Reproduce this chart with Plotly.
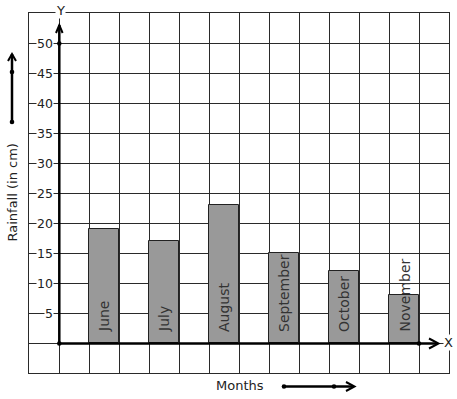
import plotly.graph_objects as go

months = ["June", "July", "August", "September", "October", "November"]
rainfall = [19, 17, 23, 15, 12, 8]
y_ticks = [5, 10, 15, 20, 25, 30, 35, 40, 45, 50]

W, H = 457, 399
L, R, T, B = 29, 449, 13, 373  # plot area in px

def px(x):
    return (x - L) / (R - L)

def py(y):
    return (B - y) / (B - T)

xpos = [1.5 + 2 * i for i in range(len(months))]

fig = go.Figure()
fig.add_trace(go.Bar(
    x=xpos, y=rainfall, width=1,
    marker=dict(color="#999999", line=dict(color="#222222", width=1)),
    hoverinfo="skip",
))

font = "DejaVu Sans"
ann = []
for xv, m in zip(xpos, months):
    ann.append(dict(x=xv, y=0, xref="x", yref="y", text=m, showarrow=False,
                    textangle=-90, yanchor="bottom", xanchor="center", yshift=9,
                    font=dict(family=font, size=14, color="#333333")))
for t in y_ticks:
    ann.append(dict(x=0, y=t, xref="x", yref="y", text=str(t), showarrow=False,
                    xanchor="right", yanchor="middle", xshift=-5, bgcolor="white",
                    borderpad=0, font=dict(family=font, size=12.5, color="#222222")))

def label(x, y, text, size=13, angle=0, bg=None):
    d = dict(x=px(x), y=py(y), xref="paper", yref="paper", text=text, showarrow=False,
             xanchor="center", yanchor="middle", textangle=angle, borderpad=0,
             font=dict(family=font, size=size, color="#222222"))
    if bg:
        d["bgcolor"] = bg
    return d

ann.append(label(60.5, 10, "Y", bg="white"))
ann.append(label(448.5, 342, "X", bg="white"))
ann.append(label(240, 385, "Months"))
ann.append(label(12, 192.5, "Rainfall (in cm)", angle=-90))

def pline(pts, w=2.5):
    path = "M " + " L ".join(f"{px(a)},{py(b)}" for a, b in pts)
    return dict(type="path", path=path, xref="paper", yref="paper",
                line=dict(color="black", width=w), layer="above")

def pdot(a, b, r=2.3):
    return dict(type="circle", xref="paper", yref="paper",
                x0=px(a - r), x1=px(a + r), y0=py(b + r), y1=py(b - r),
                fillcolor="black", line=dict(color="black", width=0), layer="above")

shapes = [
    # y axis
    pline([(59.3, 343.5), (59.3, 25)]),
    pline([(56, 33), (59.3, 25), (62.6, 33)], 2),
    # x axis
    pline([(59.3, 343.5), (438, 343.5)]),
    pline([(429, 338.5), (438.5, 343.5), (429, 348.5)], 2),
    pdot(59.3, 343.5), pdot(59.3, 43.5), pdot(419, 343.5),
    # left arrow
    pline([(12, 122), (12, 54)]),
    pline([(8, 61), (12, 54), (16, 61)], 2),
    pdot(12, 122), pdot(12, 72),
    # bottom arrow
    pline([(284, 386.5), (354, 386.5)]),
    pline([(346, 382), (354.5, 386.5), (346, 391)], 2),
    pdot(284, 386.5), pdot(334, 386.5),
]

axis_common = dict(showgrid=True, gridcolor="#2a2a2a", gridwidth=1, zeroline=False,
                   showticklabels=False, ticks="", showline=True, mirror=True,
                   linecolor="#2a2a2a", linewidth=1, fixedrange=True)

fig.update_layout(
    width=W, height=H,
    margin=dict(l=L, r=W - R, t=T, b=H - B, pad=0),
    paper_bgcolor="white", plot_bgcolor="white",
    showlegend=False,
    xaxis=dict(range=[-1, 13], tick0=0, dtick=1, **axis_common),
    yaxis=dict(range=[-5, 55], tick0=0, dtick=5, **axis_common),
    annotations=ann,
    shapes=shapes,
    bargap=0,
)

fig.write_html("out.html", config={"displayModeBar": False})
